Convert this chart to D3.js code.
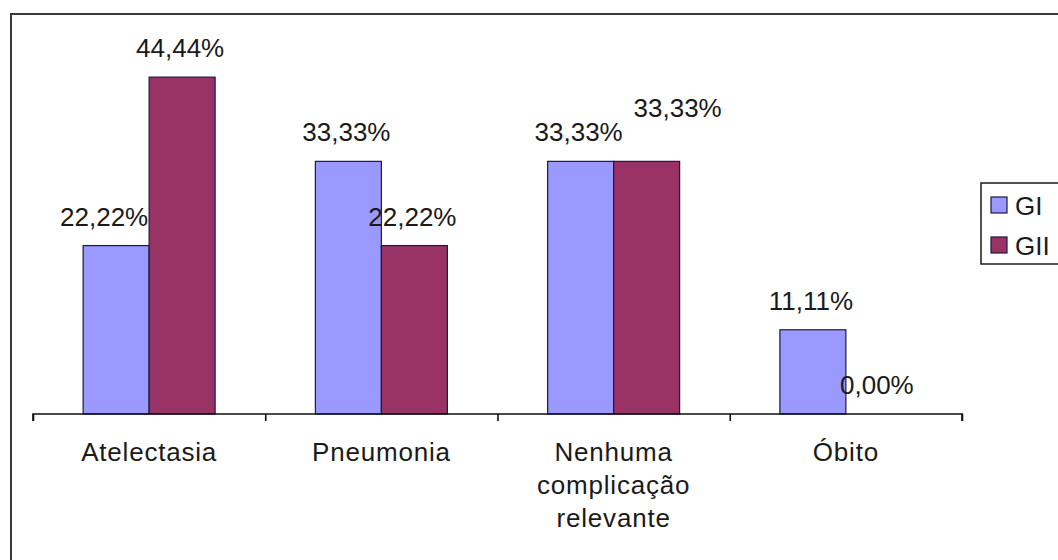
<!DOCTYPE html>
<html>
<head>
<meta charset="utf-8">
<script src="https://cdn.jsdelivr.net/npm/d3@7"></script>
<style>
  html, body { margin: 0; padding: 0; background: #fff; }
  svg { display: block; }
  text { font-family: "Liberation Sans", Arial, sans-serif; fill: #1a1a1a; }
</style>
</head>
<body>
<svg id="chart" width="1058" height="560"></svg>
<script>
// ---- data ----
const categories = ["Atelectasia", "Pneumonia", "Nenhuma\ncomplicação\nrelevante", "Óbito"];
const seriesNames = ["GI", "GII"];
const valuesGI  = [22.22, 33.33, 33.33, 11.11];
const valuesGII = [44.44, 22.22, 33.33, 0.00];
const seriesColors = ["#9999FF", "#993366"];

// ---- layout ----
const svg = d3.select("#chart");
const W = 1058, H = 560;
const plot = { left: 33, right: 962, top: 35, bottom: 414 };

svg.append("rect").attr("width", W).attr("height", H).attr("fill", "#fff");
// outer chart frame (extends beyond the picture on right/bottom)
svg.append("rect")
  .attr("x", 11).attr("y", 14).attr("width", W + 20).attr("height", H + 20)
  .attr("fill", "none").attr("stroke", "#3a3a3a").attr("stroke-width", 2);

const x = d3.scaleBand().domain(d3.range(categories.length))
  .range([plot.left, plot.right]).paddingInner(0).paddingOuter(0);
const bw = x.bandwidth();
const barW = 66;
const outer = (bw - 2 * barW) / (2 * barW);
const xs = d3.scaleBand().domain(seriesNames).range([0, bw])
  .paddingInner(0).paddingOuter(outer);
const y = d3.scaleLinear().domain([0, 50]).range([plot.bottom, plot.top]);

const rows = categories.map((c, i) => ({ i, c, vals: [valuesGI[i], valuesGII[i]] }));

// bars
const g = svg.append("g");
rows.forEach(r => {
  seriesNames.forEach((s, k) => {
    const v = r.vals[k];
    if (v <= 0) return;
    g.append("rect")
      .attr("x", x(r.i) + xs(s))
      .attr("y", y(v))
      .attr("width", xs.bandwidth())
      .attr("height", y(0) - y(v))
      .attr("fill", seriesColors[k])
      .attr("stroke", "#1a1a40").attr("stroke-width", 1.2);
  });
});

// axis with ticks at category boundaries
const xi = d3.scaleLinear().domain([0, categories.length]).range([plot.left, plot.right]);
const axis = svg.append("g").attr("transform", `translate(0,${plot.bottom})`)
  .call(d3.axisBottom(xi).ticks(categories.length).tickSize(7).tickSizeOuter(7).tickFormat(""));
axis.selectAll("path, line").attr("stroke", "#111").attr("stroke-width", 1.6);
axis.select(".domain").attr("d", `M${plot.left},7V0H${plot.right}V7`);

// category labels
rows.forEach(r => {
  const lines = r.c.split("\n");
  const t = svg.append("text")
    .attr("x", x(r.i) + bw / 2)
    .attr("y", 461)
    .attr("text-anchor", "middle")
    .attr("font-size", 26)
    .attr("letter-spacing", 0.8);
  lines.forEach((ln, j) => {
    t.append("tspan").attr("x", x(r.i) + bw / 2).attr("dy", j === 0 ? 0 : 33).text(ln);
  });
});

// data labels (with the small manual nudges seen in the original)
const fmt = v => v.toFixed(2).replace(".", ",") + "%";
const nudge = { "0-0": [-10, 0], "2-1": [33, -24] };
rows.forEach(r => {
  seriesNames.forEach((s, k) => {
    const v = r.vals[k];
    const n = nudge[r.i + "-" + k] || [0, 0];
    svg.append("text")
      .attr("x", x(r.i) + xs(s) + xs.bandwidth() / 2 - 2 + n[0])
      .attr("y", y(v) - 20 + n[1])
      .attr("text-anchor", "middle")
      .attr("font-size", 26)
      .text(fmt(v));
  });
});

// legend
const lg = svg.append("g");
lg.append("rect").attr("x", 981).attr("y", 183).attr("width", 100).attr("height", 81)
  .attr("fill", "#fff").attr("stroke", "#1a1a1a").attr("stroke-width", 1.5);
seriesNames.forEach((s, k) => {
  lg.append("rect").attr("x", 991).attr("y", 197 + k * 40).attr("width", 16).attr("height", 16)
    .attr("fill", seriesColors[k]).attr("stroke", "#1a1a40").attr("stroke-width", 1.2);
  lg.append("text").attr("x", 1015).attr("y", 215 + k * 40).attr("font-size", 26).text(s);
});
</script>
</body>
</html>
